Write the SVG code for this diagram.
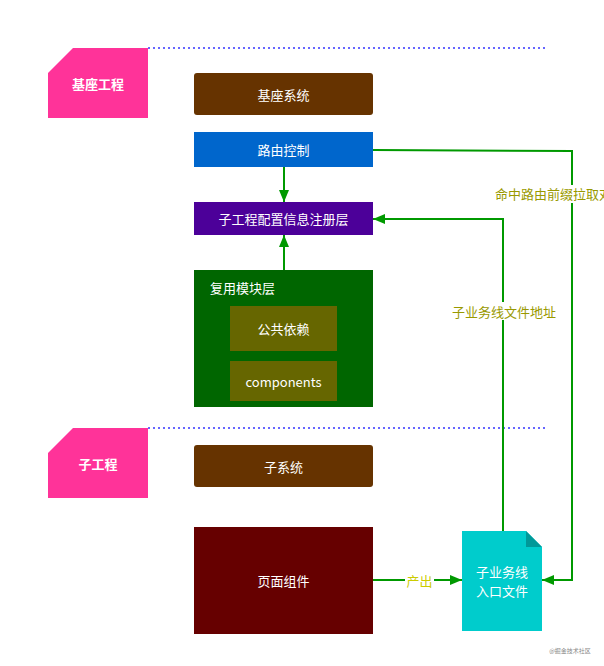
<svg xmlns="http://www.w3.org/2000/svg" width="604" height="666" viewBox="0 0 604 666">
<defs>
<marker id="ah" markerWidth="12" markerHeight="10" refX="12" refY="5" orient="auto" markerUnits="userSpaceOnUse">
<path d="M0,0 L12,5 L0,10 Z" fill="#009900"/>
</marker>
<style>
text{font-family:"Noto Sans CJK SC","Liberation Sans",sans-serif;}
.t{fill:#fff;font-size:13px;text-anchor:middle;dominant-baseline:central;}
.tag{fill:#ff3399;}
.tagt{fill:#fff;font-size:13px;font-weight:bold;text-anchor:middle;dominant-baseline:central;}
.sep{stroke:#6666ff;stroke-width:2;stroke-dasharray:2 3;fill:none;}
.edge{stroke:#009900;stroke-width:2;fill:none;}
.lbl{fill:#999900;font-size:13px;text-anchor:middle;dominant-baseline:central;}
</style>
</defs>
<rect width="604" height="666" fill="#fff"/>
<g id="sep1"><line class="sep" x1="148" y1="48" x2="545" y2="48"/></g>
<g id="sep2"><line class="sep" x1="148" y1="428" x2="545" y2="428"/></g>
<g id="tag-base"><polygon class="tag" points="73,48 148,48 148,118 48,118 48,73"/><text class="tagt" x="98" y="83">基座工程</text></g>
<g id="tag-sub"><polygon class="tag" points="73,428 148,428 148,498 48,498 48,453"/><text class="tagt" x="98" y="463">子工程</text></g>
<g id="base-system"><rect x="194" y="73" width="179" height="42" rx="3" fill="#663300"/><text class="t" x="283.5" y="94">基座系统</text></g>
<g id="router"><rect x="194" y="132" width="179" height="35" fill="#0066cc"/><text class="t" x="283.5" y="149.5">路由控制</text></g>
<g id="registry"><rect x="194" y="202" width="179" height="33" fill="#4c0099"/><text class="t" x="283.5" y="218.5">子工程配置信息注册层</text></g>
<g id="reuse"><rect x="194" y="270" width="179" height="137" fill="#006600"/><text x="210" y="287" fill="#fff" font-size="13" dominant-baseline="central">复用模块层</text></g>
<g id="deps"><rect x="230" y="306" width="107" height="45" fill="#666600"/><text class="t" x="283.5" y="328.5">公共依赖</text></g>
<g id="components"><rect x="230" y="361" width="107" height="40" fill="#666600"/><text class="t" x="283.5" y="381" font-family="'Open Sans','Liberation Sans',sans-serif">components</text></g>
<g id="sub-system"><rect x="194" y="445" width="179" height="42" rx="3" fill="#663300"/><text class="t" x="283.5" y="466">子系统</text></g>
<g id="page"><rect x="194" y="527" width="179" height="107" fill="#660000"/><text class="t" x="283.5" y="580.5">页面组件</text></g>
<g id="entry-file"><path d="M462,531 H526 L542,547 V631 H462 Z" fill="#00cccc"/><path d="M526,531 L542,547 H526 Z" fill="#009999"/><text class="t" x="502" y="571">子业务线</text><text class="t" x="502" y="590">入口文件</text></g>
<g id="connectors">
<line class="edge" x1="284" y1="167" x2="284" y2="202" marker-end="url(#ah)"/>
<line class="edge" x1="284" y1="270" x2="284" y2="235" marker-end="url(#ah)"/>
<line class="edge" x1="373" y1="580" x2="462" y2="580" marker-end="url(#ah)"/>
<rect x="405" y="572" width="29" height="16" fill="#fff"/>
<text x="419.5" y="580" font-size="13" fill="#cccc00" text-anchor="middle" dominant-baseline="central">产出</text>
<polyline class="edge" points="373,150 572,151 572,580 542,580" marker-end="url(#ah)"/>
<rect x="493" y="185" width="111" height="18" fill="#fff"/>
<text x="495" y="193" font-size="13" fill="#999900" dominant-baseline="central">命中路由前缀拉取对</text>
<polyline class="edge" points="503,531 503,219 373,219" marker-end="url(#ah)"/>
<rect x="451" y="302" width="106" height="18" fill="#fff"/>
<text class="lbl" x="504" y="311">子业务线文件地址</text>
</g>
<text x="570" y="650" font-size="6" fill="#888" text-anchor="middle" dominant-baseline="central">@掘金技术社区</text>
</svg>
